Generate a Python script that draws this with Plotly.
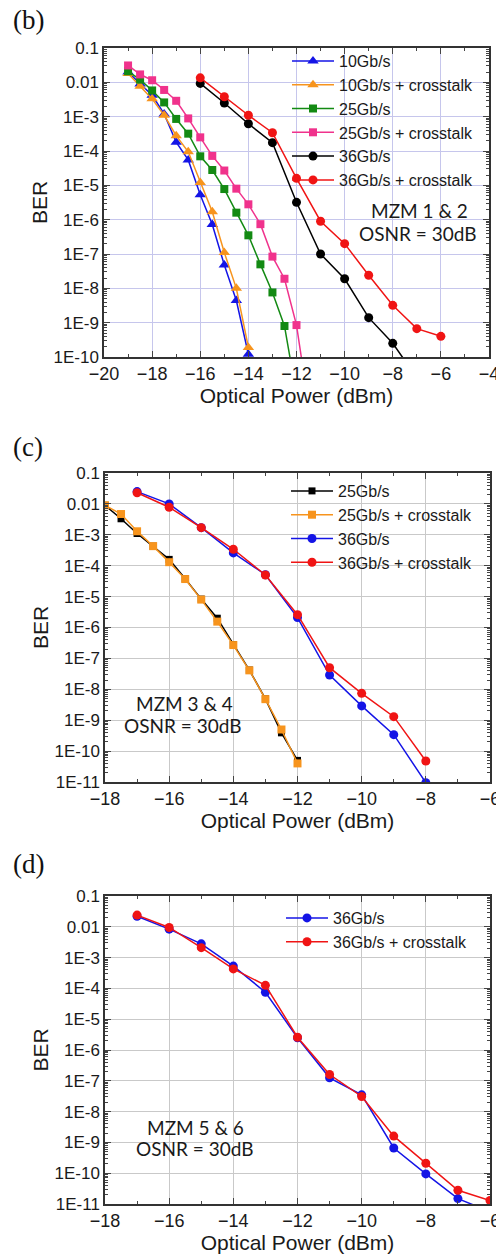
import plotly.graph_objects as go

# ---- Panel (b): MZM 1 & 2 ----
b_x10 = [-19, -18.5, -18, -17.5, -17, -16.5, -16, -15.5, -15, -14.5, -14]
b_10 = [0.02, 0.009, 0.0042, 0.0012, 1.8e-4, 5.5e-5, 5.3e-6, 7.2e-7, 4.8e-8, 4.4e-9, 1.2e-10]
b_10x = [0.018, 0.0077, 0.0033, 0.0011, 2.8e-4, 9.5e-5, 1.2e-5, 1.7e-6, 1.1e-7, 1.0e-8, 1.9e-10]

b_x25 = [-19, -18.5, -18, -17.5, -17, -16.5, -16, -15.5, -15, -14.5, -14, -13.5, -13, -12.5, -12]
b_25 = [0.021, 0.012, 0.0058, 0.0026, 8.6e-4, 3.2e-4, 7e-5, 2.8e-5, 7.8e-6, 1.6e-6, 3.5e-7,
        5e-8, 7.6e-9, 8e-10, 8e-12]
b_x25x = [-19, -18.5, -18, -17.5, -17, -16.5, -16, -15.5, -15, -14.5, -14, -13.5, -13, -12.5, -12, -11.5]
b_25x = [0.031, 0.017, 0.0115, 0.006, 0.0029, 8.9e-4, 2.5e-4, 7.2e-5, 2.7e-5, 8e-6, 2.8e-6,
         7.4e-7, 8.4e-8, 1.9e-8, 8.5e-10, 4e-12]

b_x36 = [-16, -15, -14, -13, -12, -11, -10, -9, -8, -7]
b_36 = [0.0093, 0.0025, 6.2e-4, 1.75e-4, 3.2e-6, 1e-7, 1.9e-8, 1.4e-9, 2.5e-10, 2.5e-11]
b_x36x = [-16, -15, -14, -13, -12, -11, -10, -9, -8, -7, -6]
b_36x = [0.0135, 0.0038, 0.0011, 3.4e-4, 1.6e-5, 9e-7, 2e-7, 2.4e-8, 3.2e-9, 6.7e-10, 4e-10]

# ---- Panel (c): MZM 3 & 4 ----
c_x25 = [-18, -17.5, -17, -16.5, -16, -15.5, -15, -14.5, -14, -13.5, -13, -12.5, -12]
c_25 = [0.009, 0.0033, 0.0011, 4.3e-4, 1.6e-4, 3.8e-5, 8.3e-6, 2e-6, 2.8e-7, 4.2e-8, 4.9e-9, 3.9e-10, 5e-11]
c_25x = [0.009, 0.0047, 0.0013, 4.3e-4, 1.3e-4, 3.7e-5, 8e-6, 1.55e-6, 2.7e-7, 4.1e-8, 4.8e-9, 5e-10, 4e-11]

c_x36 = [-17, -16, -15, -14, -13, -12, -11, -10, -9, -8]
c_36 = [0.025, 0.01, 0.0017, 2.6e-4, 5.1e-5, 2.1e-6, 2.9e-8, 2.9e-9, 3.4e-10, 9.5e-12]
c_36x = [0.023, 0.0078, 0.0017, 3.4e-4, 5e-5, 2.6e-6, 5e-8, 7.4e-9, 1.3e-9, 4.8e-11]

# ---- Panel (d): MZM 5 & 6 ----
d_x36 = [-17, -16, -15, -14, -13, -12, -11, -10, -9, -8, -7, -6]
d_36 = [0.022, 0.0084, 0.0028, 5.3e-4, 7.5e-5, 2.5e-6, 1.25e-7, 3.5e-8, 6.6e-10, 9.5e-11, 1.5e-11, 5.6e-12]
d_36x = [0.024, 0.0095, 0.0021, 4.3e-4, 1.26e-4, 2.6e-6, 1.6e-7, 3.1e-8, 1.6e-9, 2.1e-10, 2.8e-11, 1.3e-11]

y_tickvals = [1e-1, 1e-2, 1e-3, 1e-4, 1e-5, 1e-6, 1e-7, 1e-8, 1e-9, 1e-10, 1e-11]
y_ticktext = ["0.1", "0.01", "1E-3", "1E-4", "1E-5", "1E-6", "1E-7", "1E-8", "1E-9", "1E-10", "1E-11"]

BLUE = "#1414e6"
ORANGE = "#f7941d"
GREEN = "#138a13"
PINK = "#f0328c"
BLACK = "#000000"
RED = "#f01414"

W, H = 496, 1255
FONT = "Liberation Sans, Arial, sans-serif"


def px_x(p):
    return p / W


def px_y(p):
    return 1 - p / H


fig = go.Figure()


def add(x, y, name, color, symbol, size, axis_id, legend):
    xa = "x" if axis_id == 1 else f"x{axis_id}"
    ya = "y" if axis_id == 1 else f"y{axis_id}"
    fig.add_trace(go.Scatter(
        x=x, y=y, name=name, mode="lines+markers",
        line=dict(color=color, width=1.5),
        marker=dict(color=color, symbol=symbol, size=size),
        xaxis=xa, yaxis=ya, legend=legend,
    ))


add(b_x10, b_10, "10Gb/s", BLUE, "triangle-up", 10, 1, "legend")
add(b_x10, b_10x, "10Gb/s + crosstalk", ORANGE, "triangle-up", 10, 1, "legend")
add(b_x25, b_25, "25Gb/s", GREEN, "square", 8, 1, "legend")
add(b_x25x, b_25x, "25Gb/s + crosstalk", PINK, "square", 8, 1, "legend")
add(b_x36, b_36, "36Gb/s", BLACK, "circle", 9, 1, "legend")
add(b_x36x, b_36x, "36Gb/s + crosstalk", RED, "circle", 9, 1, "legend")

add(c_x25, c_25, "25Gb/s", BLACK, "square", 7, 2, "legend2")
add(c_x25, c_25x, "25Gb/s + crosstalk", ORANGE, "square", 8, 2, "legend2")
add(c_x36, c_36, "36Gb/s", BLUE, "circle", 9, 2, "legend2")
add(c_x36, c_36x, "36Gb/s + crosstalk", RED, "circle", 9, 2, "legend2")

add(d_x36, d_36, "36Gb/s", BLUE, "circle", 9, 3, "legend3")
add(d_x36, d_36x, "36Gb/s + crosstalk", RED, "circle", 9, 3, "legend3")

# plot-area boxes in pixels: (left, right, top, bottom)
boxes = [(104, 489, 48, 357), (105, 490, 473, 782), (105, 490, 896, 1204)]
xranges = [(-20, -4), (-18, -6), (-18, -6)]
yranges = [(-10, -1), (-11, -1), (-11, -1)]
gridcolors = ["#c6c6ec", "#c9c9c9", "#c9c9c9"]

layout = dict(
    width=W, height=H,
    margin=dict(l=0, r=0, t=0, b=0, autoexpand=False),
    paper_bgcolor="white", plot_bgcolor="white",
    font=dict(family=FONT, size=16, color="#1a1a1a"),
    showlegend=True,
)

for i, ((l, r, t, b), xr, yr, gc) in enumerate(zip(boxes, xranges, yranges, gridcolors), start=1):
    sfx = "" if i == 1 else str(i)
    layout["xaxis" + sfx] = dict(
        domain=[px_x(l), px_x(r)], range=list(xr), anchor="y" + sfx,
        dtick=2, tick0=-20, ticks="inside", ticklen=6, tickwidth=1.3,
        minor=dict(ticks="inside", ticklen=3, dtick=1, tickwidth=1.1, showgrid=False),
        showline=True, linecolor="#333", linewidth=1.5, mirror="allticks",
        showgrid=True, gridcolor=gc, gridwidth=1, zeroline=False,
        ticklabeloverflow="allow", automargin=False,
        tickfont=dict(size=18, family=FONT, color="#1a1a1a"),
        title=dict(text="Optical Power (dBm)", font=dict(size=21, family=FONT), standoff=0),
    )
    layout["yaxis" + sfx] = dict(
        domain=[px_y(b), px_y(t)], range=list(yr), type="log", anchor="x" + sfx,
        tickmode="array", tickvals=y_tickvals, ticktext=y_ticktext,
        ticks="inside", ticklen=6, tickwidth=1.3,
        minor=dict(ticks="inside", ticklen=3, dtick="D1", tickwidth=1, showgrid=False),
        showline=True, linecolor="#333", linewidth=1.5, mirror="allticks",
        showgrid=True, gridcolor=gc, gridwidth=1, zeroline=False,
        ticklabeloverflow="allow", automargin=False,
        tickfont=dict(size=17, family=FONT, color="#1a1a1a"),
        title=dict(text="BER", font=dict(size=21, family=FONT), standoff=0),
    )

leg_common = dict(bgcolor="rgba(0,0,0,0)", borderwidth=0, xanchor="left", yanchor="top",
                  font=dict(size=16, family=FONT, color="#1a1a1a"), itemwidth=42,
                  tracegroupgap=0)
layout["legend"] = dict(x=px_x(287), y=px_y(44), **leg_common)
layout["legend2"] = dict(x=px_x(286), y=px_y(474), **leg_common)
layout["legend3"] = dict(x=px_x(281), y=px_y(901), **leg_common)

fig.update_layout(**layout)

ann_font = dict(family="Lato, Open Sans, sans-serif", size=19, color="#1a1a1a")
notes = [
    ("MZM 1 & 2", 419, 211), ("OSNR = 30dB", 418, 233),
    ("MZM 3 & 4", 184, 703), ("OSNR = 30dB", 183, 726),
    ("MZM 5 & 6", 195, 1127), ("OSNR = 30dB", 195, 1148),
]
for text, cx, cy in notes:
    fig.add_annotation(text=text, x=px_x(cx), y=px_y(cy), xref="paper", yref="paper",
                       showarrow=False, xanchor="center", yanchor="middle", font=ann_font)

panel_labels = [("(b)", 11, 20), ("(c)", 11, 447), ("(d)", 11, 864)]
for text, lx, ly in panel_labels:
    fig.add_annotation(text=text, x=px_x(lx), y=px_y(ly), xref="paper", yref="paper",
                       showarrow=False, xanchor="left", yanchor="middle",
                       font=dict(family="Liberation Serif, Times New Roman, serif", size=27, color="#111"))

fig.write_html("out.html")
